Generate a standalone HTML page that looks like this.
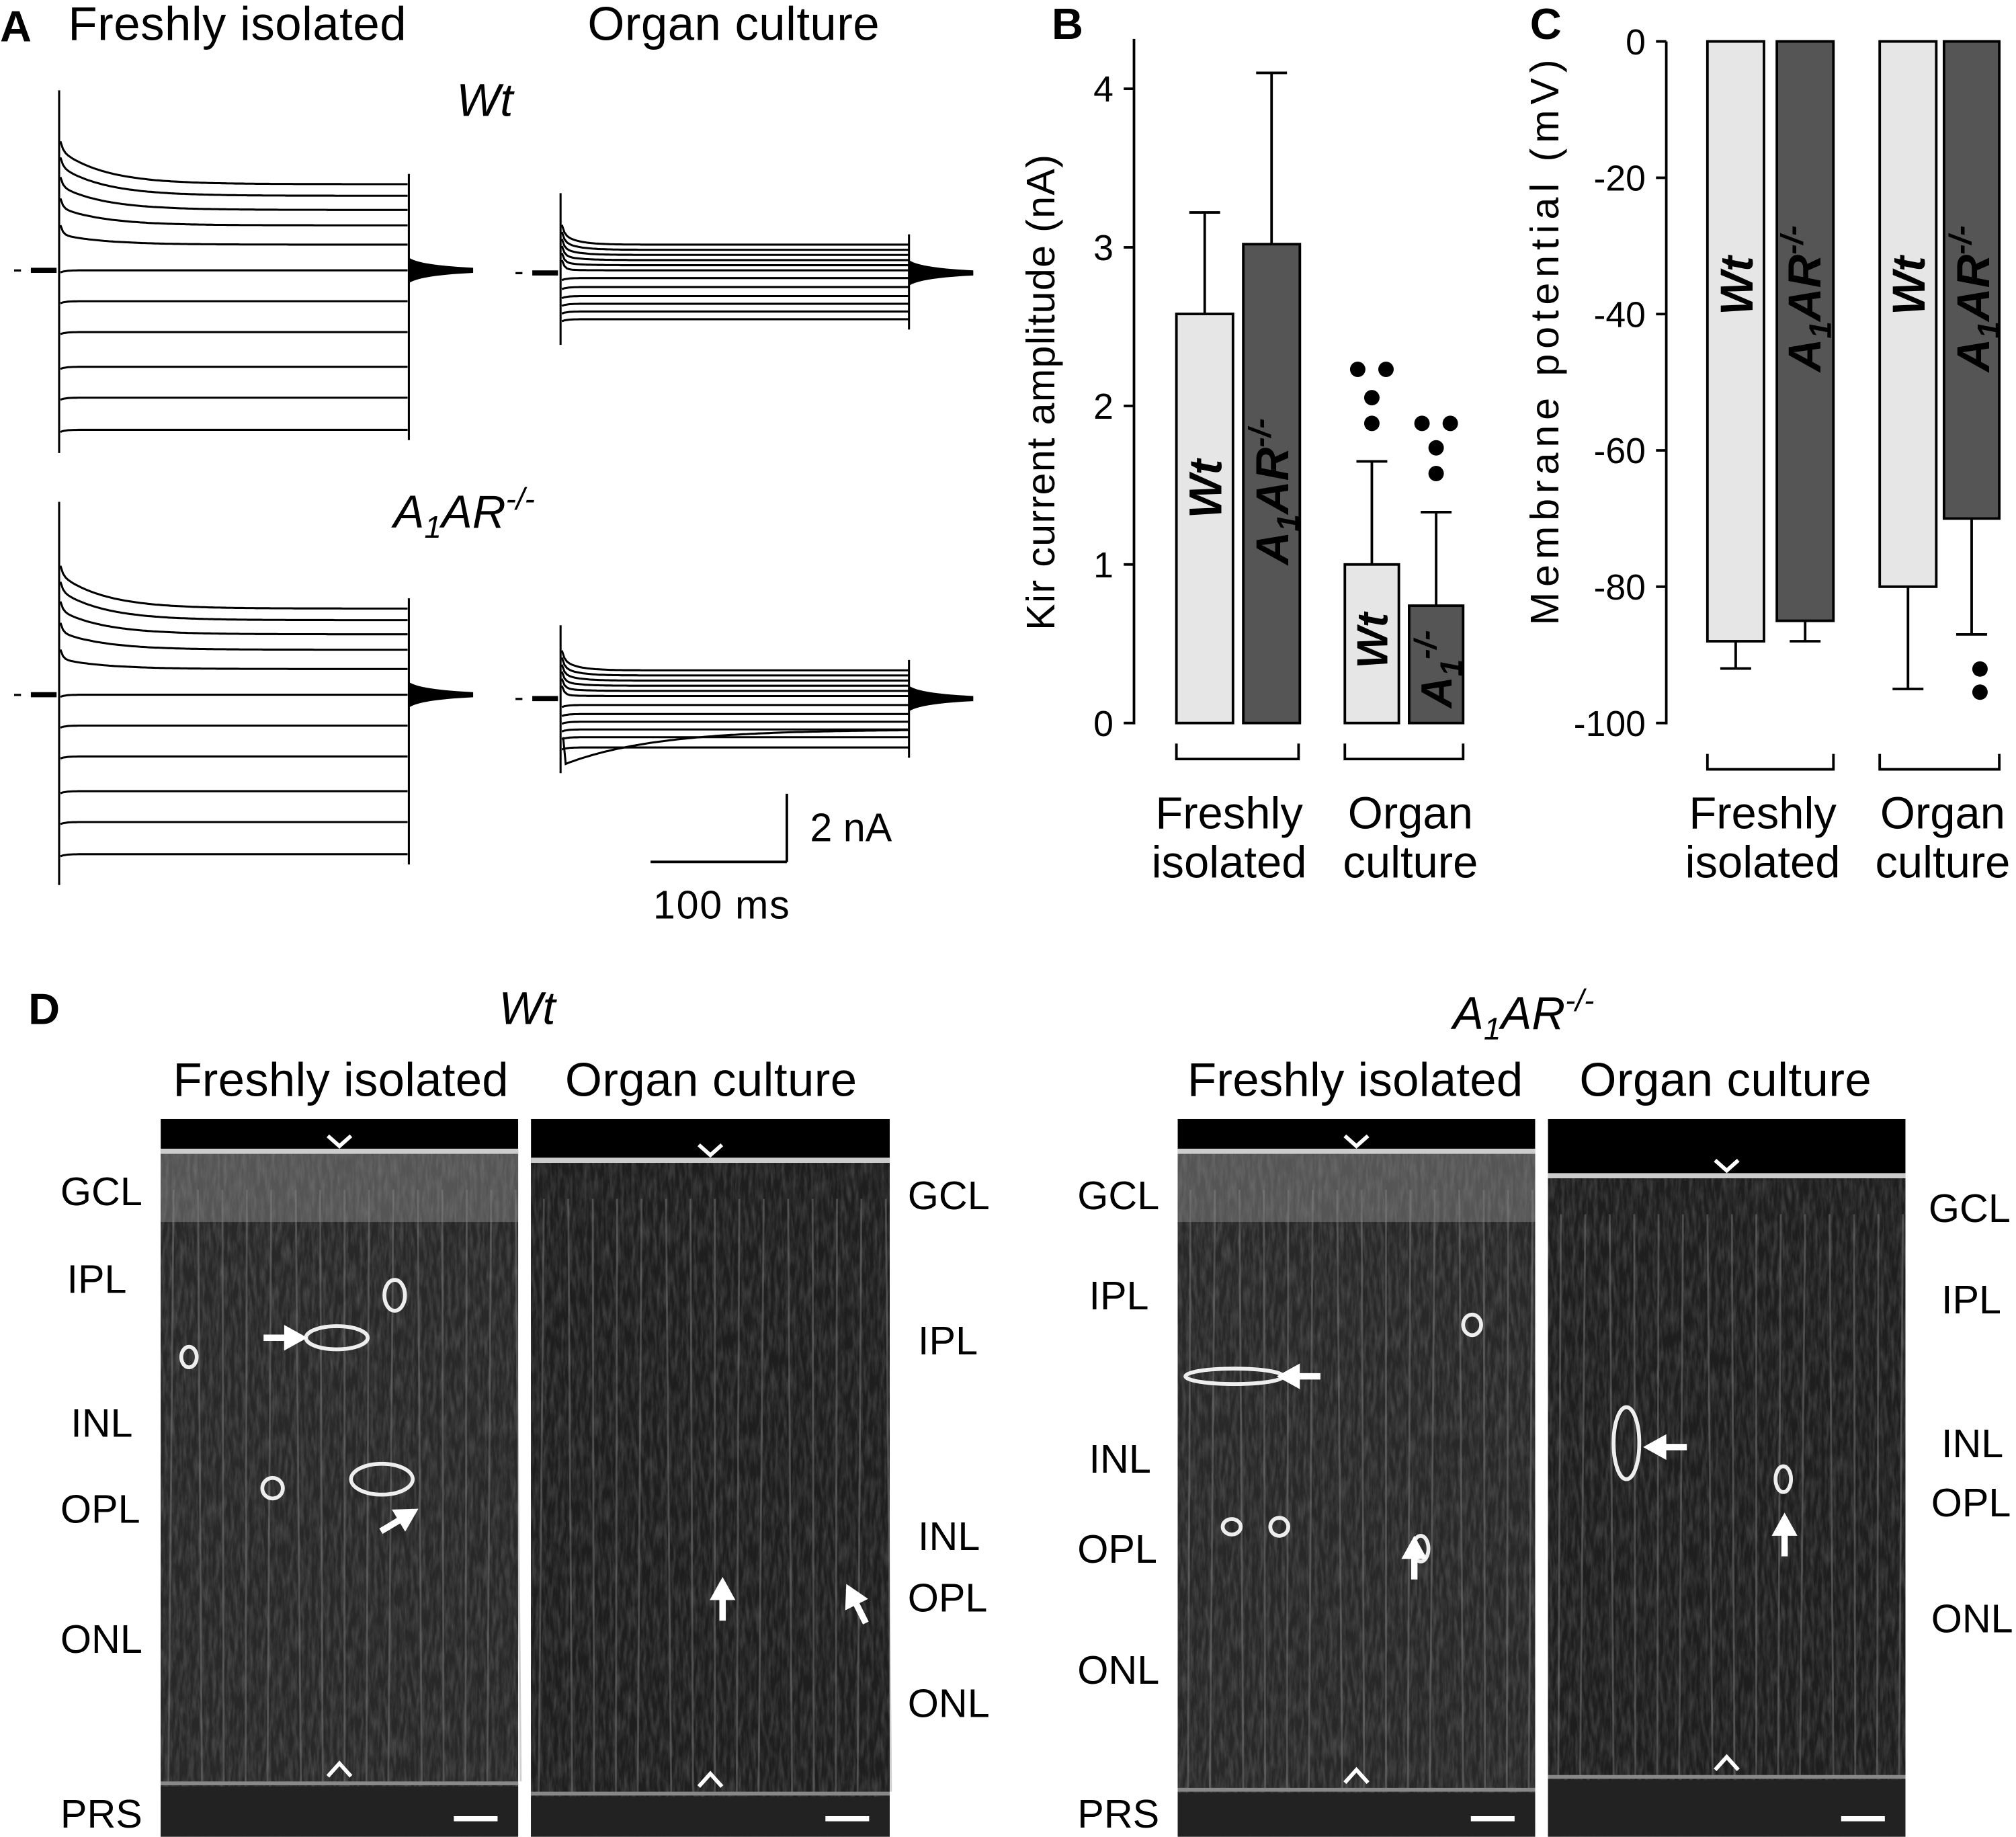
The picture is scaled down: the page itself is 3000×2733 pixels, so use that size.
<!DOCTYPE html>
<html><head><meta charset="utf-8"><style>
html,body{margin:0;padding:0;background:#fff}
svg{display:block}
text{font-family:"Liberation Sans",Arial,sans-serif;fill:#000}
</style></head><body>
<svg id="fig" width="3000" height="2733" viewBox="0 0 1568 1428" xmlns="http://www.w3.org/2000/svg">
<defs>
<filter id="noise" x="0" y="0" width="100%" height="100%">
<feTurbulence type="fractalNoise" baseFrequency="0.35 0.06" numOctaves="3" seed="4"/>
<feColorMatrix type="matrix" values="0 0 0 0 1  0 0 0 0 1  0 0 0 0 1  0 0 0 -1.6 1.05"/>
</filter>
</defs>
<g id="panelA">
<text x="0" y="32" font-size="34" font-weight="bold">A</text>
<text x="53" y="31" font-size="37" textLength="263">Freshly isolated</text>
<text x="457" y="31" font-size="37" textLength="227">Organ culture</text>
<text x="355" y="90" font-size="36" font-style="italic">Wt</text>
<text x="306" y="410" font-size="36" font-style="italic">A<tspan font-size="24" dy="8">1</tspan><tspan dy="-8">AR</tspan><tspan font-size="24" dy="-14">-/-</tspan></text>
<line x1="612" y1="617" x2="612" y2="670" stroke="#000" stroke-width="2"/>
<line x1="506" y1="670" x2="612" y2="670" stroke="#000" stroke-width="2"/>
<text x="630" y="654" font-size="31">2 nA</text>
<text x="508" y="714" font-size="31" textLength="106">100 ms</text>
</g>
<g id="panelB"></g>
<g id="panelC"></g>
<g id="panelD"></g>
</svg>
<script>
// ---- Panel A trace data (steady-state levels, px offsets from baseline) ----
const freshLevels = [-67,-58,-47,-35,-20,0,24,48,75,99,124];
const orgWtLevels = [-22,-18,-14,-10,-6,-2,4,11,18,24,30,36];
const orgA1Levels = [-22,-18,-14,-10,-6,-2,5,12,18,24,30,38];
// ---- Panel B data ----
const bCategories = ["Wt fresh","A1AR fresh","Wt organ","A1AR organ"];
const bValues = [2.58, 3.02, 1.0, 0.74];
const bErrors = [0.64, 1.08, 0.65, 0.59];
const bTicks = [0,1,2,3,4];
// ---- Panel C data ----
const cCategories = ["Wt fresh","A1AR fresh","Wt organ","A1AR organ"];
const cValues = [-88, -85, -80, -70];
const cErrors = [4, 3, 15, 17];
const cTicks = [0,-20,-40,-60,-80,-100];

const NS="http://www.w3.org/2000/svg";
function mk(tag, attrs, parent){const e=document.createElementNS(NS,tag);for(const k in attrs)e.setAttribute(k,attrs[k]);parent.appendChild(e);return e;}
const A=document.getElementById('panelA');

function traces(x0,x1,base,levels,spikeUp,spikeDown,tau,name,slow){
  const g=mk('g',{},A);
  
  
  mk('line',{x1:x0-18,y1:base,x2:x0+2,y2:base,stroke:'#000','stroke-width':4},g);
  mk('text',{x:x0-32,y:base+6,'font-size':22},g).textContent='-';
  mk('line',{x1:x0+4,y1:base-spikeUp,x2:x0+4,y2:base+spikeDown,stroke:'#000','stroke-width':1.6},g);
  mk('line',{x1:x1,y1:base+Math.min(...levels)-8,x2:x1,y2:base+Math.max(...levels)+8,stroke:'#000','stroke-width':1.6},g);
  levels.forEach((L,i)=>{
    let d='';
    for(let x=x0+5;x<=x1;x+=2){
      const t=x-x0-4;
      let y=base+L+(L<0? -0.4*Math.abs(L)*Math.exp(-t/tau) - 12*Math.exp(-t/2):2*Math.exp(-t/4));
      d+=(d?' L':'M')+`${x},${y.toFixed(1)}`;
    }
    const p=mk('path',{d:d,fill:'none',stroke:'#000','stroke-width':1.6},g);
    
    
  });
  if(slow){
    let d=`M${x0+6},${base+30}`;
    for(let x=x0+8;x<=x1;x+=3){const t=x-x0;const y=base+24+slow*Math.exp(-t/70)*Math.min(1,t/8);d+=` L${x},${y.toFixed(1)}`;}
    mk('path',{d:d,fill:'none',stroke:'#000','stroke-width':1.6},g);
  }
  mk('path',{d:`M${x1},${base-10} Q${x1+8},${base-4} ${x1+50},${base-2} L${x1+50},${base+2} Q${x1+8},${base+4} ${x1},${base+10} Z`,fill:'#000'},g);
}
traces(42,318,210,freshLevels,140,142,35,'wt-fresh-traces');
traces(432,707,212,orgWtLevels,62,56,12,'wt-organ-traces');
traces(42,318,540,freshLevels,150,148,35,'a1ar-fresh-traces');
traces(432,707,543,orgA1Levels,57,58,12,'a1ar-organ-traces',30);

// ---- Panel B ----
const B=document.getElementById('panelB');
mk('text',{x:818,y:30,'font-size':34,'font-weight':'bold'},B).textContent='B';
const by=v=>562-v*123.3;
mk('line',{x1:882,y1:30,x2:882,y2:563,stroke:'#000','stroke-width':2},B);
bTicks.forEach(t=>{
  mk('line',{x1:874,y1:by(t),x2:882,y2:by(t),stroke:'#000','stroke-width':2},B);
  const tx=mk('text',{x:866,y:by(t)+10,'font-size':28,'text-anchor':'end'},B);tx.textContent=t;
  
  
});
const bt=mk('text',{x:0,y:0,'font-size':31,transform:'translate(820,305) rotate(-90)','text-anchor':'middle',textLength:370},B);
bt.textContent='Kir current amplitude (nA)';


const bx=[915,967,1046,1096], bw=[44,44,42,42];
bValues.forEach((v,i)=>{
  const dark=i%2==1;
  const top=by(v+bErrors[i]);
  mk('line',{x1:bx[i]+bw[i]/2,y1:top,x2:bx[i]+bw[i]/2,y2:by(v),stroke:'#000','stroke-width':2},B);
  mk('line',{x1:bx[i]+bw[i]/2-12,y1:top,x2:bx[i]+bw[i]/2+12,y2:top,stroke:'#000','stroke-width':2},B);
  const r=mk('rect',{x:bx[i],y:by(v),width:bw[i],height:by(0)-by(v),fill:dark?'#555':'#e6e6e6',stroke:'#000','stroke-width':2},B);
  
  
});
function vlab(par,x,y,txt,white,size){const t=mk('text',{x:0,y:0,'font-size':size||36,'font-weight':'bold','font-style':'italic',transform:`translate(${x},${y}) rotate(-90)`,'text-anchor':'middle',fill:white?'#fff':'#000'},par);t.innerHTML=txt;return t;}
vlab(B,950,380,'Wt',false);
vlab(B,1002,382,'A<tspan font-size="24" dy="8">1</tspan><tspan dy="-8">AR</tspan><tspan font-size="24" dy="-14">-/-</tspan>',true);
vlab(B,1079,498,'Wt',false,34);
vlab(B,1129,520,'A<tspan font-size="24" dy="8">1</tspan><tspan font-size="24" dy="-20">-/-</tspan>',true,34);
function dots(par,pts){pts.forEach(p=>mk('circle',{cx:p[0],cy:p[1],r:6,fill:'#000'},par));}
dots(B,[[1056,287],[1078,287],[1067,309],[1067,329],[1106,329],[1128,329],[1117,348],[1117,368]]);
function bracket(par,x1,x2,y){mk('path',{d:`M${x1},${y-12} L${x1},${y} L${x2},${y} L${x2},${y-12}`,fill:'none',stroke:'#000','stroke-width':2},par);}
bracket(B,915,1010,590);bracket(B,1046,1138,590);
[['Freshly',956,644],['isolated',956,682],['Organ',1097,644],['culture',1097,682]].forEach(a=>{mk('text',{x:a[1],y:a[2],'font-size':35,'text-anchor':'middle'},B).textContent=a[0];});

// ---- Panel C ----
const C=document.getElementById('panelC');
mk('text',{x:1190,y:30,'font-size':34,'font-weight':'bold'},C).textContent='C';
const cy=v=>32-v*5.3;
mk('line',{x1:1296,y1:32,x2:1296,y2:563,stroke:'#000','stroke-width':2},C);
cTicks.forEach(t=>{
  mk('line',{x1:1288,y1:cy(t),x2:1296,y2:cy(t),stroke:'#000','stroke-width':2},C);
  const tx=mk('text',{x:1280,y:cy(t)+10,'font-size':28,'text-anchor':'end'},C);tx.textContent=t;
  
  
});
const ct=mk('text',{x:0,y:0,'font-size':31,transform:'translate(1212,266) rotate(-90)','text-anchor':'middle',textLength:440},C);
ct.textContent='Membrane potential (mV)';


const cx=[1328,1382,1462,1512], cw=[44,44,44,43];
cValues.forEach((v,i)=>{
  const dark=i%2==1;
  const bot=cy(v-cErrors[i]);
  mk('line',{x1:cx[i]+cw[i]/2,y1:cy(v),x2:cx[i]+cw[i]/2,y2:bot,stroke:'#000','stroke-width':2},C);
  mk('line',{x1:cx[i]+cw[i]/2-12,y1:bot,x2:cx[i]+cw[i]/2+12,y2:bot,stroke:'#000','stroke-width':2},C);
  const r=mk('rect',{x:cx[i],y:cy(0),width:cw[i],height:cy(v)-cy(0),fill:dark?'#555':'#e6e6e6',stroke:'#000','stroke-width':2},C);
  
  
});
vlab(C,1363,222,'Wt',false);
vlab(C,1416,232,'A<tspan font-size="24" dy="8">1</tspan><tspan dy="-8">AR</tspan><tspan font-size="24" dy="-14">-/-</tspan>',true);
vlab(C,1497,222,'Wt',false);
vlab(C,1547,232,'A<tspan font-size="24" dy="8">1</tspan><tspan dy="-8">AR</tspan><tspan font-size="24" dy="-14">-/-</tspan>',true);
dots(C,[[1540,520],[1540,538]]);
bracket(C,1328,1426,598);bracket(C,1462,1555,598);
[['Freshly',1371,644],['isolated',1371,682],['Organ',1511,644],['culture',1511,682]].forEach(a=>{mk('text',{x:a[1],y:a[2],'font-size':35,'text-anchor':'middle'},C).textContent=a[0];});

// ---- Panel D ----
const D=document.getElementById('panelD');
mk('text',{x:22,y:796,'font-size':34,'font-weight':'bold'},D).textContent='D';
const dt1=mk('text',{x:410,y:796,'font-size':36,'font-style':'italic','text-anchor':'middle'},D);dt1.textContent='Wt';
const dt2=mk('text',{x:1130,y:800,'font-size':36,'font-style':'italic'},D);dt2.innerHTML='A<tspan font-size="24" dy="8">1</tspan><tspan dy="-8">AR</tspan><tspan font-size="24" dy="-14">-/-</tspan>';
[['Freshly isolated',265,261],['Organ culture',553,227],['Freshly isolated',1054,261],['Organ culture',1342,227]].forEach(a=>{mk('text',{x:a[1],y:852,'font-size':37,'text-anchor':'middle',textLength:a[2]},D).textContent=a[0];});
const imgs=[[125,403,895,1385],[413,692,902,1393],[916,1194,895,1390],[1204,1482,914,1380]];
const names=['wt-fresh-image','wt-organ-image','a1ar-fresh-image','a1ar-organ-image'];
imgs.forEach((im,k)=>{
  const [x0,x1,ytop,ybot]=im;const w=x1-x0;
  const g=mk('g',{},D);
  
  
  mk('rect',{x:x0,y:870,width:w,height:558,fill:'#000'},g);
  mk('rect',{x:x0,y:ytop,width:w,height:1428-ytop,fill:k%2?'#1e1e1e':'#282828'},g);
  mk('rect',{x:x0,y:ytop,width:w,height:1428-ytop,fill:'#fff',opacity:0.18,filter:'url(#noise)'},g);
  if(k%2==0) mk('rect',{x:x0,y:ytop,width:w,height:55,fill:'#999',opacity:0.4},g);
  mk('rect',{x:x0,y:ytop-2,width:w,height:4,fill:'#ccc'},g);
  mk('rect',{x:x0,y:ybot,width:w,height:3,fill:'#888'},g);
  mk('rect',{x:x0,y:ybot+4,width:w,height:1428-ybot-4,fill:'#222'},g);
  for(let x=x0+10;x<x1;x+=19){mk('line',{x1:x,y1:ytop+30,x2:x+((x*7)%9-4),y2:ybot,stroke:'#888',opacity:0.4,'stroke-width':1.5},g);}
  mk('path',{d:`M${(x0+x1)/2-9},${ytop-12} L${(x0+x1)/2},${ytop-4} L${(x0+x1)/2+9},${ytop-12}`,stroke:'#fff','stroke-width':3,fill:'none'},g);
  mk('path',{d:`M${(x0+x1)/2-9},${ybot-4} L${(x0+x1)/2},${ybot-14} L${(x0+x1)/2+9},${ybot-4}`,stroke:'#fff','stroke-width':3,fill:'none'},g);
  mk('line',{x1:x1-50,y1:1414,x2:x1-16,y2:1414,stroke:'#fff','stroke-width':4},g);
});
[[262,1040,24,9],[307,1007,8,12],[147,1055,6,8],[297,1150,24,12],[212,1157,8,8],[960,1070,38,6],[1145,1030,7,8],[958,1187,7,6],[995,1187,7,7],[1265,1122,10,28],[1387,1150,6,10],[1105,1204,6,10]].forEach(v=>{
  mk('ellipse',{cx:v[0],cy:v[1],rx:v[2],ry:v[3],fill:'none',stroke:'#eee','stroke-width':3},D);
});
function arrow(x,y,dx,dy){const L=Math.hypot(dx,dy),ux=dx/L,uy=dy/L;mk('line',{x1:x-ux*30,y1:y-uy*30,x2:x,y2:y,stroke:'#fff','stroke-width':5},D);
  mk('path',{d:`M${x+ux*4},${y+uy*4} L${x-ux*14-uy*10},${y-uy*14+ux*10} L${x-ux*14+uy*10},${y-uy*14-ux*10} Z`,fill:'#fff'},D);}
arrow(235,1040,1,0);arrow(322,1175,1,-0.6);arrow(562,1230,0,-1);arrow(660,1235,-0.5,-1);
arrow(997,1070,-1,0);arrow(1100,1198,0,-1);arrow(1282,1125,-1,0);arrow(1388,1180,0,-1);
const layers=[
 [47,926,'GCL'],[52,994,'IPL'],[55,1106,'INL'],[47,1173,'OPL'],[47,1274,'ONL'],[47,1410,'PRS'],
 [706,929,'GCL'],[714,1042,'IPL'],[714,1194,'INL'],[706,1242,'OPL'],[706,1324,'ONL'],
 [838,929,'GCL'],[847,1007,'IPL'],[847,1134,'INL'],[838,1204,'OPL'],[838,1298,'ONL'],[838,1410,'PRS'],
 [1500,939,'GCL'],[1510,1010,'IPL'],[1510,1122,'INL'],[1502,1168,'OPL'],[1502,1258,'ONL']];
layers.forEach(l=>{const t=mk('text',{x:l[0],y:l[1]+11,'font-size':31},D);t.textContent=l[2];
  
  });
</script>
</body></html>
